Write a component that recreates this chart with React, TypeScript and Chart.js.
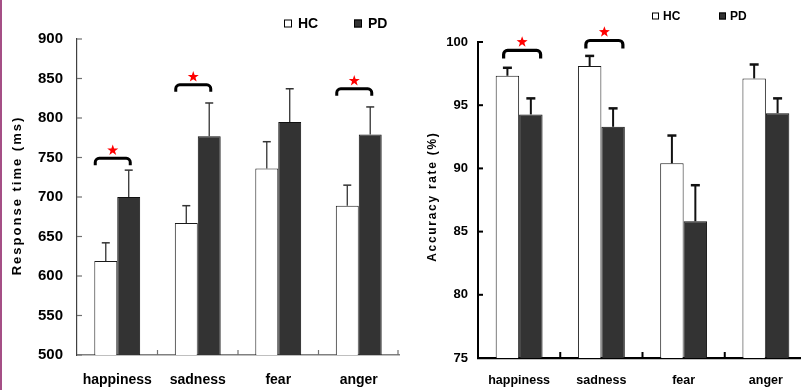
import React, { useEffect, useRef } from 'react';
import { Chart, registerables } from 'chart.js';

Chart.register(...registerables);

const FONT = '"Liberation Sans", Arial, Helvetica, sans-serif';

// ---------- data ----------
const categories = ['happiness', 'sadness', 'fear', 'anger'];
const seriesNames = ['HC', 'PD'];

// Response time (ms)
const rtHC = [619, 667, 736, 689];
const rtHCse = [23, 22, 34, 26];
const rtPD = [700, 777, 795, 779];
const rtPDse = [34, 42, 42, 35];
const rtTicks = [500, 550, 600, 650, 700, 750, 800, 850, 900];
const rtSigIdx = [0, 1, 3];
const rtSigLevel = [749, 842, 837];

// Accuracy rate (%)
const accHC = [97.33, 98.1, 90.4, 97.12];
const accHCse = [0.63, 0.8, 2.2, 1.1];
const accPD = [94.27, 93.29, 85.82, 94.37];
const accPDse = [1.27, 1.46, 2.85, 1.17];
const accTicks = [75, 80, 85, 90, 95, 100];
const accSigIdx = [0, 1];
const accSigLevel = [99.33, 100.12];

const rtTitle = 'Response time (ms)';
const accTitle = 'Accuracy rate (%)';

// ---------- drawing helpers ----------
function drawStar(ctx: CanvasRenderingContext2D, cx: number, cy: number, R: number, r: number) {
  ctx.beginPath();
  for (let k = 0; k < 10; k++) {
    const rad = k % 2 === 0 ? R : r;
    const a = -Math.PI / 2 + (k * Math.PI) / 5;
    const px = cx + rad * Math.cos(a);
    const py = cy + rad * Math.sin(a);
    if (k === 0) ctx.moveTo(px, py);
    else ctx.lineTo(px, py);
  }
  ctx.closePath();
  ctx.fill();
}

type DecorStyle = {
  errors: number[][];
  errColor: string;
  errWidth: number;
  capWidth: number;
  cap: number;
  tickColor: string;
  tickWidth: number;
  tickLen: number;
  xTickLen: number;
  xTickRightEnd: boolean;
  sigIdx: number[];
  sigLevel: number[];
  brDx: number;
  brHalf: number;
  brLeg: number;
  brR: number;
  brWidth: number;
  starDy: number;
  starR: number;
  legendY: number;
  legendBox: number;
  legendFont: number;
  legendItems: { boxX: number; textX: number; fill: string }[];
  title: string;
  titleX: number;
  titleY: number;
  titleFont: number;
  titleSpacing: number;
};

function makeDecor(st: DecorStyle) {
  return {
    id: 'decor',
    afterDatasetsDraw(chart: any) {
      const ctx: CanvasRenderingContext2D = chart.ctx;
      const xs = chart.scales.x;
      const ys = chart.scales.y;
      const area = chart.chartArea;
      ctx.save();
      // error bars (upper only)
      st.errors.forEach((se, di) => {
        const meta = chart.getDatasetMeta(di);
        const vals = chart.data.datasets[di].data as number[];
        meta.data.forEach((bar: any, j: number) => {
          const top = ys.getPixelForValue(vals[j] + se[j]);
          ctx.strokeStyle = st.errColor;
          ctx.lineWidth = st.errWidth;
          ctx.beginPath();
          ctx.moveTo(bar.x, bar.y);
          ctx.lineTo(bar.x, top);
          ctx.stroke();
          ctx.lineWidth = st.capWidth;
          ctx.beginPath();
          ctx.moveTo(bar.x - st.cap, top);
          ctx.lineTo(bar.x + st.cap, top);
          ctx.stroke();
        });
      });
      // inward tick marks
      ctx.strokeStyle = st.tickColor;
      ctx.lineWidth = st.tickWidth;
      ys.ticks.forEach((t: any) => {
        const py = ys.getPixelForValue(t.value);
        ctx.beginPath();
        ctx.moveTo(area.left, py);
        ctx.lineTo(area.left + st.tickLen, py);
        ctx.stroke();
      });
      const n = categories.length;
      const half = (xs.getPixelForTick(1) - xs.getPixelForTick(0)) / 2;
      for (let i = 0; i < n; i++) {
        if (i === n - 1 && !st.xTickRightEnd) continue;
        const px = Math.min(xs.getPixelForTick(i) + half, area.right - 1);
        ctx.beginPath();
        ctx.moveTo(px, area.bottom);
        ctx.lineTo(px, area.bottom - st.xTickLen);
        ctx.stroke();
      }
      // significance brackets
      st.sigIdx.forEach((idx, k) => {
        const cx = xs.getPixelForValue(idx) + st.brDx;
        const yl = ys.getPixelForValue(st.sigLevel[k]);
        const l = cx - st.brHalf;
        const r = cx + st.brHalf;
        ctx.strokeStyle = '#000';
        ctx.lineWidth = st.brWidth;
        ctx.beginPath();
        ctx.moveTo(l, yl + st.brLeg);
        ctx.lineTo(l, yl + st.brR);
        ctx.arcTo(l, yl, l + st.brR, yl, st.brR);
        ctx.lineTo(r - st.brR, yl);
        ctx.arcTo(r, yl, r, yl + st.brR, st.brR);
        ctx.lineTo(r, yl + st.brLeg);
        ctx.stroke();
        ctx.fillStyle = '#ff0000';
        drawStar(ctx, cx, yl - st.starDy, st.starR, st.starR * 0.4);
      });
      ctx.restore();
    },
    afterDraw(chart: any) {
      const ctx: CanvasRenderingContext2D = chart.ctx;
      ctx.save();
      // legend
      ctx.font = `bold ${st.legendFont}px ${FONT}`;
      ctx.textBaseline = 'middle';
      ctx.textAlign = 'left';
      st.legendItems.forEach((it, i) => {
        const b = st.legendBox;
        ctx.fillStyle = it.fill;
        ctx.fillRect(it.boxX, st.legendY - b / 2, b, b);
        ctx.strokeStyle = '#000';
        ctx.lineWidth = 1;
        ctx.strokeRect(it.boxX + 0.5, st.legendY - b / 2 + 0.5, b - 1, b - 1);
        ctx.fillStyle = '#000';
        ctx.fillText(seriesNames[i], it.textX, st.legendY + 0.5);
      });
      // rotated y-axis title with letter spacing
      ctx.translate(st.titleX, st.titleY);
      ctx.rotate(-Math.PI / 2);
      ctx.font = `bold ${st.titleFont}px ${FONT}`;
      (ctx as any).letterSpacing = `${st.titleSpacing}px`;
      ctx.textAlign = 'center';
      ctx.textBaseline = 'middle';
      ctx.fillStyle = '#000';
      ctx.fillText(st.title, st.titleSpacing / 2, 0);
      ctx.restore();
    },
  };
}

function buildConfig(opts: {
  hc: number[];
  pd: number[];
  hcSe: number[];
  pdSe: number[];
  ticks: number[];
  yWidth: number;
  xHeight: number;
  pad: { top: number; right: number; bottom: number; left: number };
  xFont: number;
  xPad: number;
  yFont: number;
  yPad: number;
  xBorder: { color: string; width: number };
  yBorder: { color: string; width: number };
  barBorder: number;
  decor: Omit<DecorStyle, 'errors'>;
}) {
  const decor = makeDecor({ ...opts.decor, errors: [opts.hcSe, opts.pdSe] });
  return {
    type: 'bar' as const,
    data: {
      labels: categories,
      datasets: [
        {
          label: seriesNames[0],
          data: opts.hc,
          backgroundColor: '#ffffff',
          borderColor: '#1a1a1a',
          borderWidth: opts.barBorder,
        },
        {
          label: seriesNames[1],
          data: opts.pd,
          backgroundColor: '#333333',
          borderColor: '#111111',
          borderWidth: opts.barBorder,
        },
      ],
    },
    options: {
      responsive: false,
      animation: false as const,
      events: [],
      layout: { padding: opts.pad },
      datasets: { bar: { categoryPercentage: 0.57, barPercentage: 1 } },
      plugins: { legend: { display: false }, tooltip: { enabled: false }, title: { display: false } },
      scales: {
        x: {
          type: 'category' as const,
          grid: { display: false, drawTicks: false },
          border: { display: true, color: opts.xBorder.color, width: opts.xBorder.width },
          ticks: {
            color: '#000',
            font: { family: FONT, size: opts.xFont, weight: 'bold' as const },
            padding: opts.xPad,
            maxRotation: 0,
            autoSkip: false,
          },
          afterFit: (s: any) => {
            s.height = opts.xHeight;
          },
        },
        y: {
          type: 'linear' as const,
          min: opts.ticks[0],
          max: opts.ticks[opts.ticks.length - 1],
          grid: { display: false, drawTicks: false },
          border: { display: true, color: opts.yBorder.color, width: opts.yBorder.width },
          ticks: {
            color: '#000',
            font: { family: FONT, size: opts.yFont, weight: 'bold' as const },
            padding: opts.yPad,
          },
          afterBuildTicks: (s: any) => {
            s.ticks = opts.ticks.map((v) => ({ value: v }));
          },
          afterFit: (s: any) => {
            s.width = opts.yWidth;
          },
        },
      },
    },
    plugins: [decor],
  };
}

const leftConfig = () =>
  buildConfig({
    hc: rtHC,
    pd: rtPD,
    hcSe: rtHCse,
    pdSe: rtPDse,
    ticks: rtTicks,
    yWidth: 77,
    xHeight: 35,
    pad: { top: 39, right: 1, bottom: 0, left: 0 },
    xFont: 14,
    xPad: 17,
    yFont: 15,
    yPad: 14,
    xBorder: { color: '#808080', width: 1.5 },
    yBorder: { color: '#404040', width: 1.2 },
    barBorder: 1,
    decor: {
      errColor: '#333',
      errWidth: 1.3,
      capWidth: 1.5,
      cap: 4,
      tickColor: '#707070',
      tickWidth: 1.2,
      tickLen: 5,
      xTickLen: 5,
      xTickRightEnd: true,
      sigIdx: rtSigIdx,
      sigLevel: rtSigLevel,
      brDx: -4.5,
      brHalf: 17.5,
      brLeg: 7,
      brR: 4,
      brWidth: 3,
      starDy: 8,
      starR: 5.8,
      legendY: 23.5,
      legendBox: 8,
      legendFont: 14,
      legendItems: [
        { boxX: 284, textX: 298, fill: '#ffffff' },
        { boxX: 354, textX: 368, fill: '#333333' },
      ],
      title: rtTitle,
      titleX: 17.5,
      titleY: 196.5,
      titleFont: 13,
      titleSpacing: 2,
    },
  });

const rightConfig = () =>
  buildConfig({
    hc: accHC,
    pd: accPD,
    hcSe: accHCse,
    pdSe: accPDse,
    ticks: accTicks,
    yWidth: 78,
    xHeight: 32,
    pad: { top: 42, right: 5, bottom: 0, left: 0 },
    xFont: 12.5,
    xPad: 15.5,
    yFont: 13,
    yPad: 10,
    xBorder: { color: '#000', width: 2.2 },
    yBorder: { color: '#000', width: 2 },
    barBorder: 1,
    decor: {
      errColor: '#111',
      errWidth: 2,
      capWidth: 2.5,
      cap: 4.5,
      tickColor: '#000',
      tickWidth: 2,
      tickLen: 5,
      xTickLen: 6,
      xTickRightEnd: false,
      sigIdx: accSigIdx,
      sigLevel: accSigLevel,
      brDx: 3,
      brHalf: 18.5,
      brLeg: 8,
      brR: 4,
      brWidth: 3.2,
      starDy: 8.5,
      starR: 5.8,
      legendY: 16,
      legendBox: 7,
      legendFont: 12,
      legendItems: [
        { boxX: 252, textX: 263, fill: '#ffffff' },
        { boxX: 319, textX: 330, fill: '#333333' },
      ],
      title: accTitle,
      titleX: 32.5,
      titleY: 197.5,
      titleFont: 12,
      titleSpacing: 1.7,
    },
  });

function ChartCanvas(props: { make: () => any; left: number; width: number; height: number }) {
  const ref = useRef<HTMLCanvasElement>(null);
  useEffect(() => {
    if (!ref.current) return;
    const chart = new Chart(ref.current, props.make());
    return () => chart.destroy();
  }, []);
  return (
    <canvas
      ref={ref}
      width={props.width}
      height={props.height}
      style={{ position: 'absolute', left: props.left, top: 0, width: props.width, height: props.height, display: 'block' }}
    />
  );
}

export default function App() {
  return (
    <div
      style={{
        position: 'fixed',
        left: 0,
        top: 0,
        width: 801,
        height: 390,
        overflow: 'hidden',
        background: '#ffffff',
      }}
    >
      <ChartCanvas make={leftConfig} left={0} width={400} height={390} />
      <ChartCanvas make={rightConfig} left={400} width={412} height={390} />
      <div style={{ position: 'absolute', left: 0, top: 0, width: 2, height: 390, background: '#a54f86' }} />
    </div>
  );
}
